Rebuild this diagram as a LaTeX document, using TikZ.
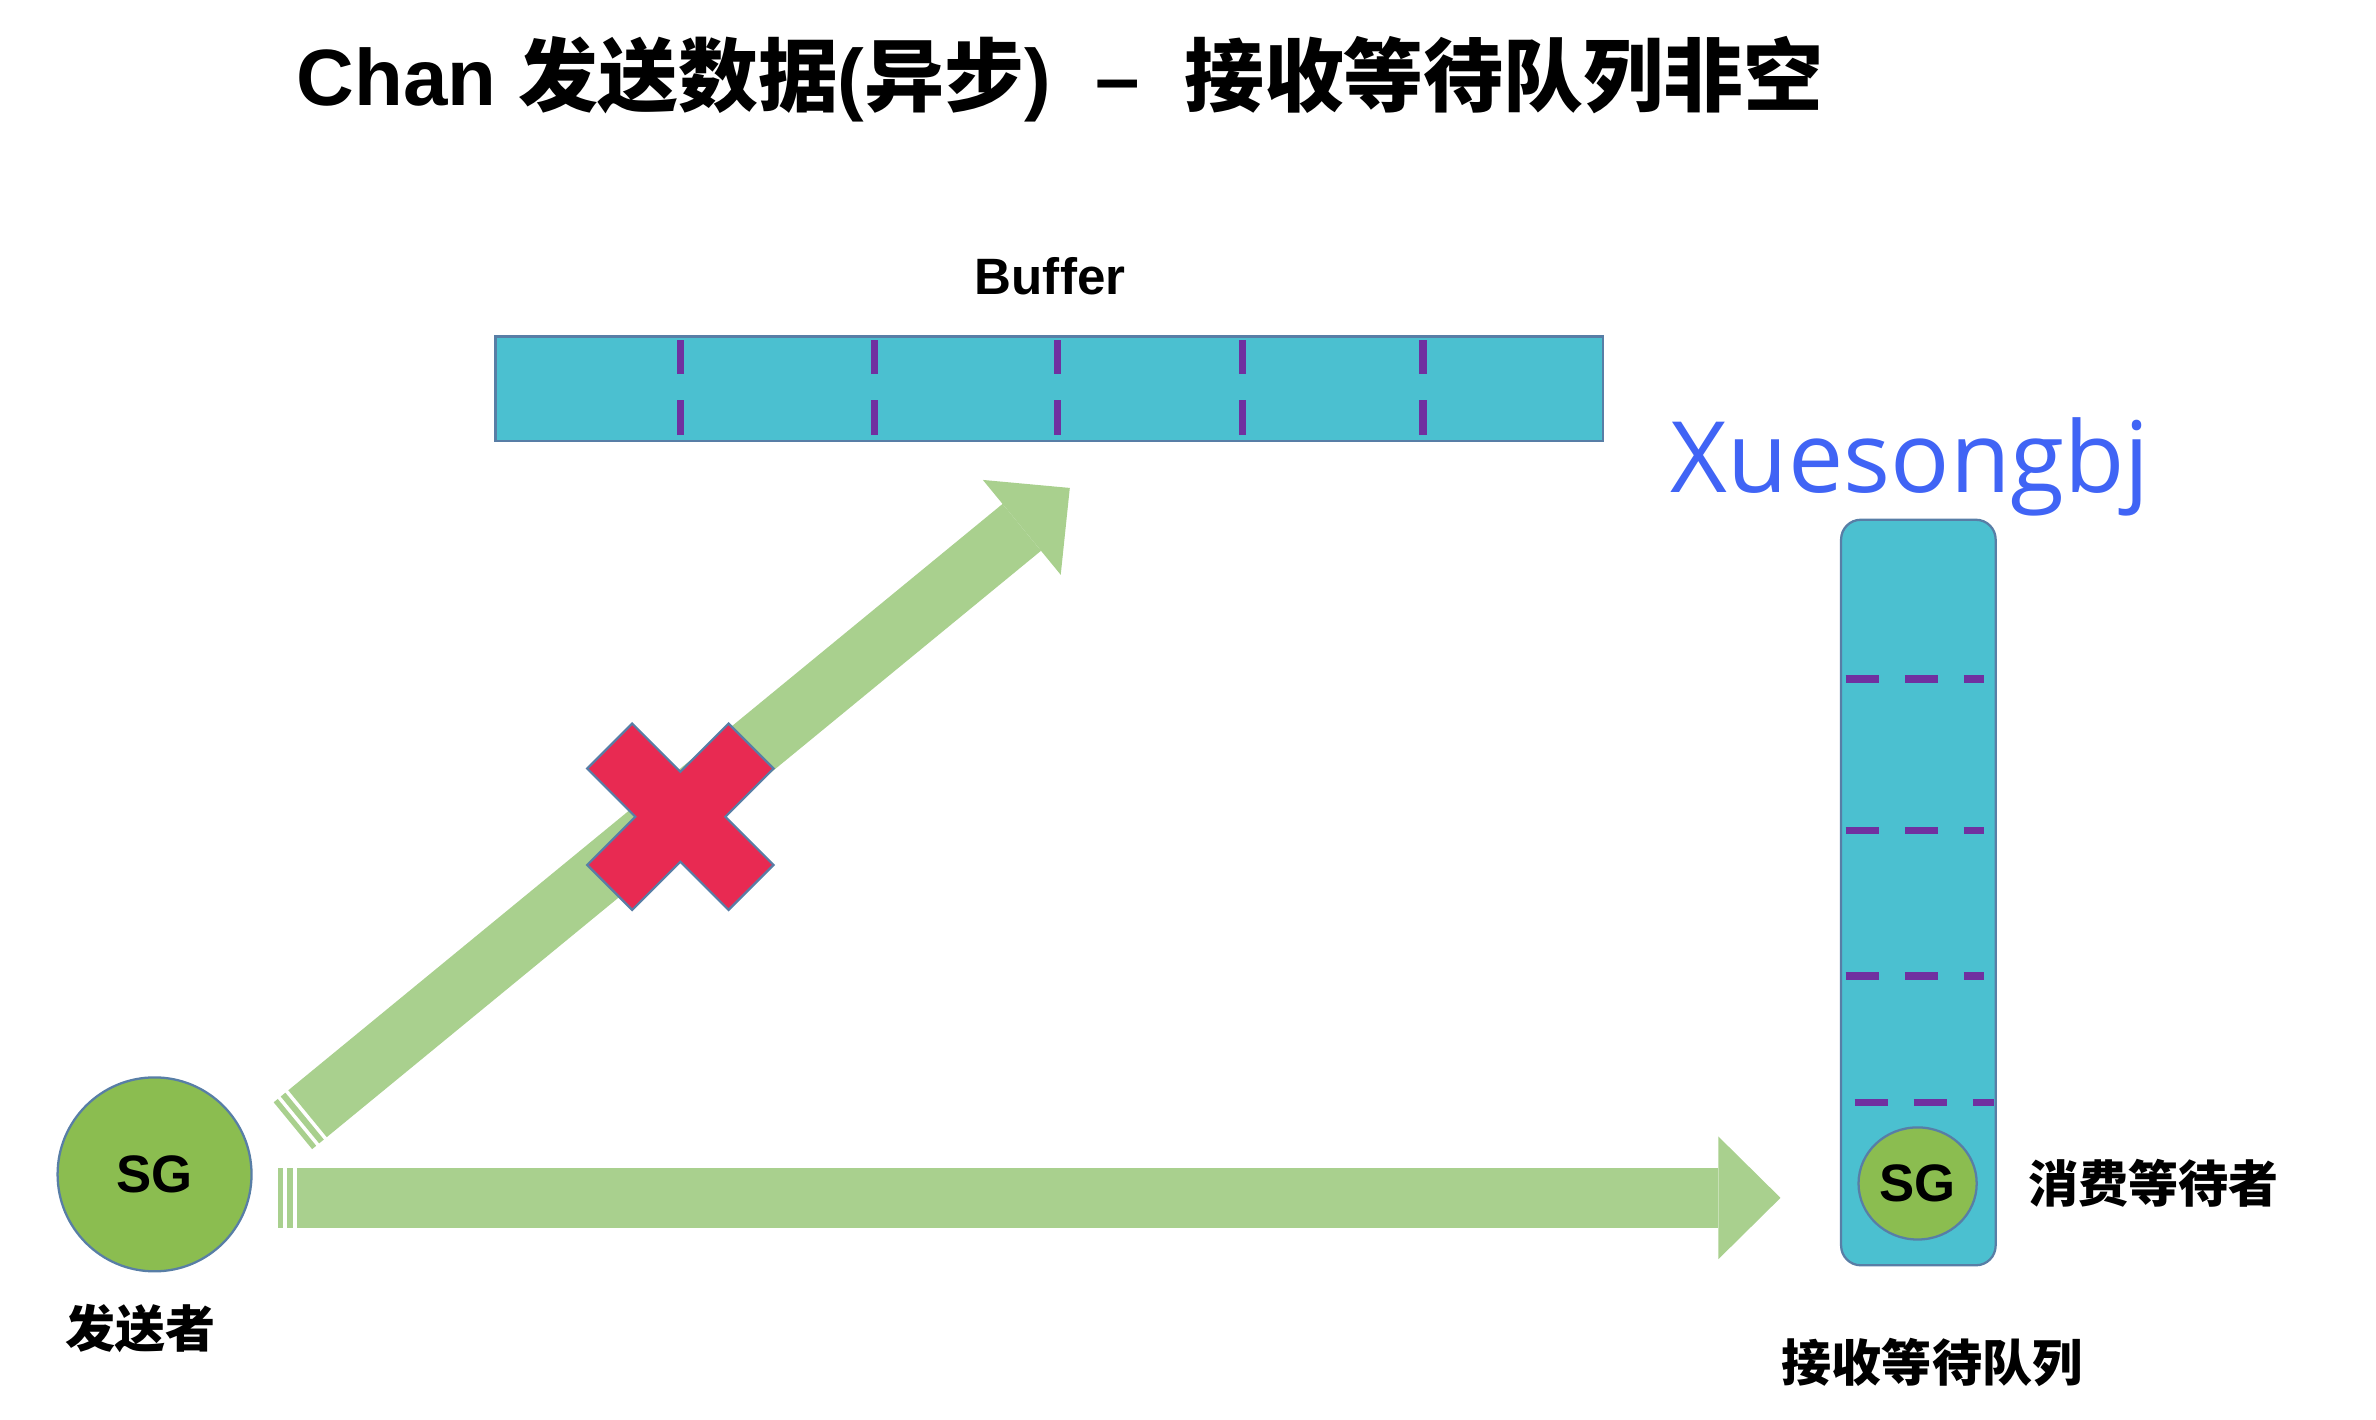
\documentclass[tikz,border=0pt]{standalone}
\usepackage{fontspec}
\setmainfont{Liberation Sans}
\newfontfamily\cjk{Noto Sans CJK SC}
\newfontfamily\markfont{Open Sans}
\usetikzlibrary{arrows.meta}
\usetikzlibrary{shapes.geometric}

\definecolor{bufcyan}{RGB}{75,192,208}
\definecolor{edgeblue}{RGB}{88,126,166}
\definecolor{slotpurple}{RGB}{112,48,160}
\definecolor{pipegreen}{RGB}{169,208,142}
\definecolor{sggreen}{RGB}{139,189,80}
\definecolor{crossred}{RGB}{232,42,82}
\definecolor{markblue}{RGB}{64,100,245}

\tikzset{
  sg/.style={circle,fill=sggreen,draw=edgeblue,line width=0.15mm,minimum size=12.8mm,inner sep=0pt,font=\fontsize{9.9}{10}\selectfont\bfseries},
  cjktext/.style={font=\fontsize{9.4}{10}\selectfont\cjk\bfseries},
  pipe/.style={pipegreen,line width=4mm,dash pattern=on 0.35mm off 0.25mm on 0.4mm off 0.25mm on 300mm off 1mm,-{Triangle[length=4.1mm,width=8.1mm,line width=0pt]}},
  slot/.style={slotpurple,line width=0.5mm},
}

\begin{document}
\begin{tikzpicture}[x=0.1mm,y=-0.1mm]
\useasboundingbox (0,0) rectangle (1568,937);
\node[anchor=west,inner sep=0pt,font=\fontsize{15}{16}\selectfont\bfseries] (title) at (195,52) {Chan {\cjk 发送数据}({\cjk 异步})~~--~~{\cjk 接收等待队列非空}};

% buffer
\node[font=\fontsize{9.6}{10}\selectfont\bfseries] (buflabel) at (693,182) {Buffer};
\node[draw=edgeblue,fill=bufcyan,line width=0.15mm,minimum width=73.1mm,minimum height=6.9mm,inner sep=0pt] (buffer) at (692.5,256.5) {};
\foreach \x in {449,577,698,820,939}
  \draw[slot] (\x,224.5) -- (\x,246.5) (\x,264) -- (\x,287);

\node[anchor=base west,inner sep=0pt,font=\fontsize{18.5}{20}\selectfont\markfont,text=markblue] (mark) at (1102,325) {Xuesongbj};

% receive queue
\draw[rounded corners=1.3mm,fill=bufcyan,draw=edgeblue,line width=0.15mm] (1215,343) rectangle (1317,835);
\foreach \y in {448,548,644}
  \draw[slot,dash pattern=on 2.2mm off 1.7mm] (1218,\y) -- (1309,\y);
\draw[slot,dash pattern=on 2.2mm off 1.7mm] (1224,727.5) -- (1316,727.5);
\node[sg,ellipse,minimum width=7.8mm,minimum height=7.4mm] (waiter) at (1265.5,781) {\raisebox{-0.5mm}{SG}};
\node[cjktext] (waiterlabel) at (1421,781) {消费等待者};
\node[cjktext] (queuelabel) at (1275,899) {接收等待队列};

% sender
\node[sg] (sender) at (102,775) {\raisebox{-0.4mm}{SG}};
\node[cjktext] (senderlabel) at (93,877) {发送者};

% arrows
\coordinate (hTail) at (183.5,790.5);
\coordinate (hTip) at (1175,790.5);
\coordinate (dTail) at (193.3,742.9);
\coordinate (dTip) at (706,322);
\draw[pipe] (hTail) -- (hTip);
\draw[pipe] (dTail) -- (dTip);

% blocked
\filldraw[fill=crossred,draw=edgeblue,line width=0.15mm,shift={(449,539)},rotate=45]
  (21,21) -- (66,21) -- (66,-21) -- (21,-21) -- (21,-66) -- (-21,-66) -- (-21,-21)
  -- (-66,-21) -- (-66,21) -- (-21,21) -- (-21,66) -- (21,66) -- cycle;
\end{tikzpicture}
\end{document}
